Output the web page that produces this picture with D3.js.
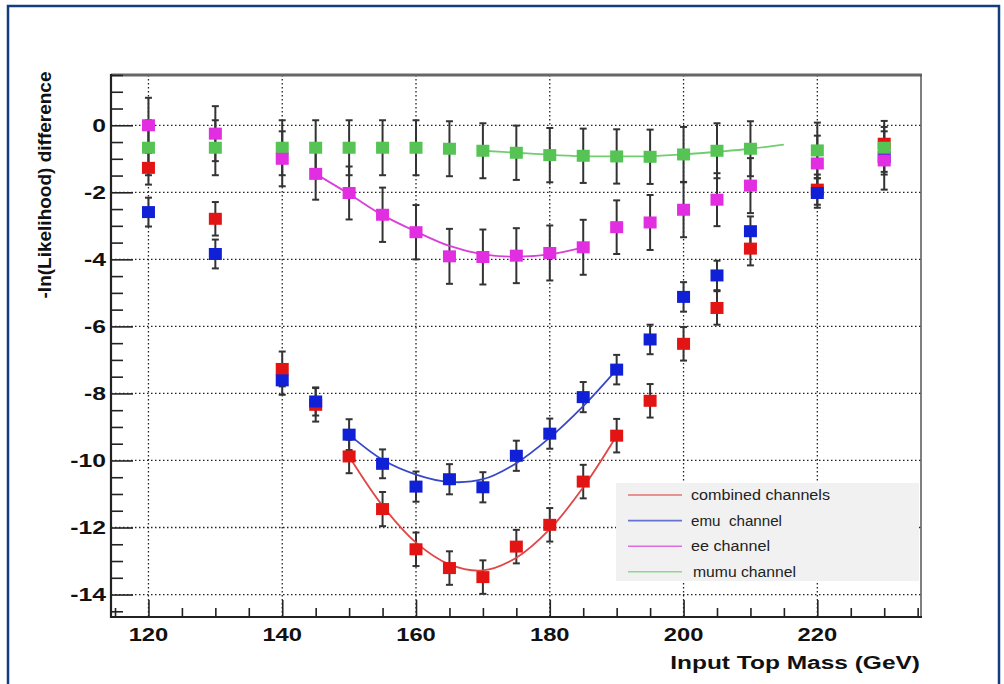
<!DOCTYPE html>
<html>
<head>
<meta charset="utf-8">
<script src="https://cdn.jsdelivr.net/npm/d3@7"></script>
<style>
  html, body { margin: 0; padding: 0; background: #fff; }
  svg { display: block; }
  text { font-family: "Liberation Sans", Arial, Helvetica, sans-serif; }
</style>
</head>
<body>
<svg id="chart" width="1004" height="684"></svg>
<script>
// Input top-mass points (GeV)
const masses = [120, 130, 140, 145, 150, 155, 160, 165, 170, 175, 180, 185, 190, 195, 200, 205, 210, 220, 230];

// -ln(L) difference per channel, with the symmetric errors
const combinedVals = [-1.27, -2.79, -7.27, -8.34, -9.88, -11.45, -12.65, -13.21, -13.48, -12.57, -11.92, -10.63, -9.26, -8.22, -6.52, -5.45, -3.68, -1.92, -0.55];
const combinedErr  = [0.5, 0.5, 0.52, 0.5, 0.5, 0.51, 0.5, 0.5, 0.5, 0.5, 0.5, 0.5, 0.5, 0.5, 0.5, 0.5, 0.5, 0.45, 0.5];
const emuVals = [-2.59, -3.84, -7.61, -8.24, -9.23, -10.1, -10.78, -10.56, -10.8, -9.86, -9.2, -8.11, -7.29, -6.39, -5.12, -4.48, -3.16, -2.02, -0.95];
const emuErr  = [0.43, 0.43, 0.43, 0.42, 0.46, 0.43, 0.45, 0.45, 0.45, 0.45, 0.45, 0.45, 0.44, 0.44, 0.44, 0.44, 0.44, 0.44, 0.44];
const eeVals = [0.0, -0.25, -1.0, -1.45, -2.02, -2.67, -3.19, -3.91, -3.93, -3.89, -3.81, -3.64, -3.04, -2.9, -2.52, -2.22, -1.8, -1.14, -1.05];
const eeErr  = [0.82, 0.82, 0.82, 0.77, 0.79, 0.81, 0.81, 0.82, 0.82, 0.82, 0.82, 0.82, 0.8, 0.82, 0.82, 0.79, 0.82, 0.83, 0.87];
const mumuVals = [-0.67, -0.67, -0.67, -0.67, -0.67, -0.67, -0.67, -0.7, -0.76, -0.82, -0.89, -0.91, -0.93, -0.94, -0.87, -0.76, -0.7, -0.75, -0.67];
const mumuErr  = [0.82, 0.82, 0.82, 0.82, 0.82, 0.82, 0.82, 0.82, 0.82, 0.81, 0.81, 0.81, 0.81, 0.81, 0.82, 0.82, 0.82, 0.83, 0.8];

// Fitted curves, sampled every 5 GeV over each fit range
const fitCombinedX = [150, 155, 160, 165, 170, 175, 180, 185, 190];
const fitCombinedY = [-9.88, -11.35, -12.45, -13.1, -13.28, -12.9, -12.05, -10.8, -9.26];
const fitEmuX = [150, 155, 160, 165, 170, 175, 180, 185, 190];
const fitEmuY = [-9.23, -9.98, -10.42, -10.64, -10.56, -10.08, -9.32, -8.38, -7.29];
const fitEeX = [145, 150, 155, 160, 165, 170, 175, 180, 185];
const fitEeY = [-1.45, -2.05, -2.68, -3.17, -3.6, -3.85, -3.92, -3.85, -3.64];
const fitMumuX = [170, 175, 180, 185, 190, 195, 200, 205, 210, 215];
const fitMumuY = [-0.76, -0.82, -0.88, -0.92, -0.93, -0.92, -0.87, -0.79, -0.7, -0.58];

// Axis ticks and labels
const xMajorTicks = [120, 140, 160, 180, 200, 220];
const xMinorTicks = [115, 125, 130, 135, 145, 150, 155, 165, 170, 175, 185, 190, 195, 205, 210, 215, 225, 230, 235];
const yMajorTicks = [0, -2, -4, -6, -8, -10, -12, -14];
const yMinorTicks = [1.5, 1, 0.5, -0.5, -1, -1.5, -2.5, -3, -3.5, -4.5, -5, -5.5, -6.5, -7, -7.5, -8.5, -9, -9.5, -10.5, -11, -11.5, -12.5, -13, -13.5, -14.5];

const legendLabels = ["combined channels", "emu  channel", "ee channel", "mumu channel"];
const xTitle = "Input Top Mass (GeV)";
const yTitle = "-ln(Likelihood) difference";

const svg = d3.select("#chart");

const x = d3.scaleLinear().domain([114.4, 235.5]).range([111, 921]);
const y = d3.scaleLinear().domain([1.5, -14.67]).range([75, 617]);

// Outer page frame
svg.append("rect").attr("x", 8).attr("y", 6).attr("width", 991).attr("height", 700)
  .attr("fill", "#fff").attr("stroke", "#123f7c").attr("stroke-width", 2.5);

// Stretch text horizontally by a factor, keeping its anchor
function widen(sel, k) {
  sel.each(function () {
    const w = this.getComputedTextLength();
    d3.select(this).attr("textLength", w * k).attr("lengthAdjust", "spacingAndGlyphs");
  });
}

// Dotted grid at the major ticks
const grid = svg.append("g").attr("stroke", "#222").attr("stroke-width", 1.3)
  .attr("stroke-dasharray", "1.5,2.5");
grid.selectAll("line.gx").data(xMajorTicks).join("line").attr("class", "gx")
  .attr("x1", d => x(d)).attr("x2", d => x(d)).attr("y1", 75).attr("y2", 617);
grid.selectAll("line.gy").data(yMajorTicks).join("line").attr("class", "gy")
  .attr("x1", 111).attr("x2", 921).attr("y1", d => y(d)).attr("y2", d => y(d));

// Frame: heavy top edge, thin right edge
svg.append("line").attr("x1", 111).attr("x2", 922).attr("y1", 75).attr("y2", 75)
  .attr("stroke", "#666").attr("stroke-width", 3);
svg.append("line").attr("x1", 921).attr("x2", 921).attr("y1", 75).attr("y2", 617)
  .attr("stroke", "#555").attr("stroke-width", 1.5);

// Y axis (ticks point into the plot)
const yAxisG = svg.append("g").attr("transform", "translate(111,0)");
yAxisG.call(d3.axisRight(y).tickValues(yMajorTicks).tickSize(22).tickFormat(""))
  .call(g => g.select(".domain").remove());
yAxisG.append("g").call(d3.axisRight(y).tickValues(yMinorTicks).tickSize(12).tickFormat(""))
  .call(g => g.select(".domain").remove());
yAxisG.selectAll("line").attr("stroke", "#222").attr("stroke-width", 1.6);
svg.append("line").attr("x1", 111).attr("x2", 111).attr("y1", 74).attr("y2", 618)
  .attr("stroke", "#222").attr("stroke-width", 2.2);

svg.append("g").selectAll("text").data(yMajorTicks).join("text")
  .attr("x", 106).attr("y", d => y(d)).attr("dy", "0.36em")
  .attr("text-anchor", "end").attr("font-size", 18).attr("font-weight", "bold").attr("fill", "#111")
  .text(d => d3.format("d")(d).replace("−", "-"))
  .call(widen, 1.37);

// X axis (ticks point up)
const xAxisG = svg.append("g").attr("transform", "translate(0,617)");
xAxisG.call(d3.axisTop(x).tickValues(xMajorTicks).tickSize(17).tickFormat(""))
  .call(g => g.select(".domain").remove());
xAxisG.append("g").call(d3.axisTop(x).tickValues(xMinorTicks).tickSize(9).tickFormat(""))
  .call(g => g.select(".domain").remove());
xAxisG.selectAll("line").attr("stroke", "#222").attr("stroke-width", 1.6);
svg.append("line").attr("x1", 110).attr("x2", 922).attr("y1", 617).attr("y2", 617)
  .attr("stroke", "#222").attr("stroke-width", 2.2);

svg.append("g").selectAll("text").data(xMajorTicks).join("text")
  .attr("x", d => x(d)).attr("y", 641)
  .attr("text-anchor", "middle").attr("font-size", 19).attr("font-weight", "bold").attr("fill", "#111")
  .text(d => d)
  .call(widen, 1.25);

// Axis titles
svg.append("text").attr("x", 920).attr("y", 669).attr("text-anchor", "end")
  .attr("font-size", 18).attr("font-weight", "bold").attr("fill", "#111")
  .text(xTitle).call(widen, 1.36);
svg.append("text").attr("transform", "translate(51,185) rotate(-90)")
  .attr("text-anchor", "middle").attr("font-size", 19).attr("font-weight", "bold").attr("fill", "#111")
  .text(yTitle);

// Channels
const series = [
  { vals: combinedVals, err: combinedErr, fx: fitCombinedX, fy: fitCombinedY, color: "#e31414", line: "#e24545" },
  { vals: emuVals, err: emuErr, fx: fitEmuX, fy: fitEmuY, color: "#1020d6", line: "#3848c8" },
  { vals: mumuVals, err: mumuErr, fx: fitMumuX, fy: fitMumuY, color: "#55c455", line: "#6fcf6f" },
  { vals: eeVals, err: eeErr, fx: fitEeX, fy: fitEeY, color: "#e02ee0", line: "#d840d8" }
];

const fitLine = d3.line().x(d => x(d[0])).y(d => y(d[1])).curve(d3.curveCatmullRom.alpha(0.5));

// Error bars for all channels beneath the markers
const errG = svg.append("g").attr("stroke", "#333").attr("stroke-width", 2);
series.forEach(s => {
  const pts = masses.map((m, i) => ({ m, v: s.vals[i], e: s.err[i] }));
  const g = errG.append("g");
  g.selectAll("line.v").data(pts).join("line").attr("class", "v")
    .attr("x1", d => x(d.m)).attr("x2", d => x(d.m))
    .attr("y1", d => y(d.v + d.e)).attr("y2", d => y(d.v - d.e));
  g.selectAll("line.t").data(pts).join("line").attr("class", "t")
    .attr("x1", d => x(d.m) - 3.5).attr("x2", d => x(d.m) + 3.5)
    .attr("y1", d => y(d.v + d.e)).attr("y2", d => y(d.v + d.e));
  g.selectAll("line.b").data(pts).join("line").attr("class", "b")
    .attr("x1", d => x(d.m) - 3.5).attr("x2", d => x(d.m) + 3.5)
    .attr("y1", d => y(d.v - d.e)).attr("y2", d => y(d.v - d.e));
});

// Fit curves
series.forEach(s => {
  svg.append("path").datum(s.fx.map((m, i) => [m, s.fy[i]]))
    .attr("d", fitLine).attr("fill", "none").attr("stroke", s.line).attr("stroke-width", 1.8);
});

// Square markers
series.forEach(s => {
  svg.append("g").selectAll("rect").data(masses.map((m, i) => [m, s.vals[i]])).join("rect")
    .attr("x", d => x(d[0]) - 6.5).attr("y", d => y(d[1]) - 6)
    .attr("width", 13).attr("height", 12).attr("fill", s.color);
});

// Legend
const legend = svg.append("g");
legend.append("rect").attr("x", 616).attr("y", 483).attr("width", 303).attr("height", 98)
  .attr("fill", "#f1f1f1");
const legendColors = [series[0].line, series[1].line, series[3].line, series[2].line];
const legendWidths = [139, 91, 79, 103];
legendLabels.forEach((lab, i) => {
  const ly = 495 + i * 25.6;
  legend.append("line").attr("x1", 628).attr("x2", 682).attr("y1", ly).attr("y2", ly)
    .attr("stroke", legendColors[i]).attr("stroke-width", 1.6).attr("stroke-opacity", 0.75);
  legend.append("text").attr("x", i === 3 ? 693 : 691).attr("y", ly + 5)
    .attr("font-size", 14).attr("fill", "#222").attr("xml:space", "preserve")
    .attr("textLength", legendWidths[i]).attr("lengthAdjust", "spacingAndGlyphs")
    .text(lab);
});
</script>
</body>
</html>
